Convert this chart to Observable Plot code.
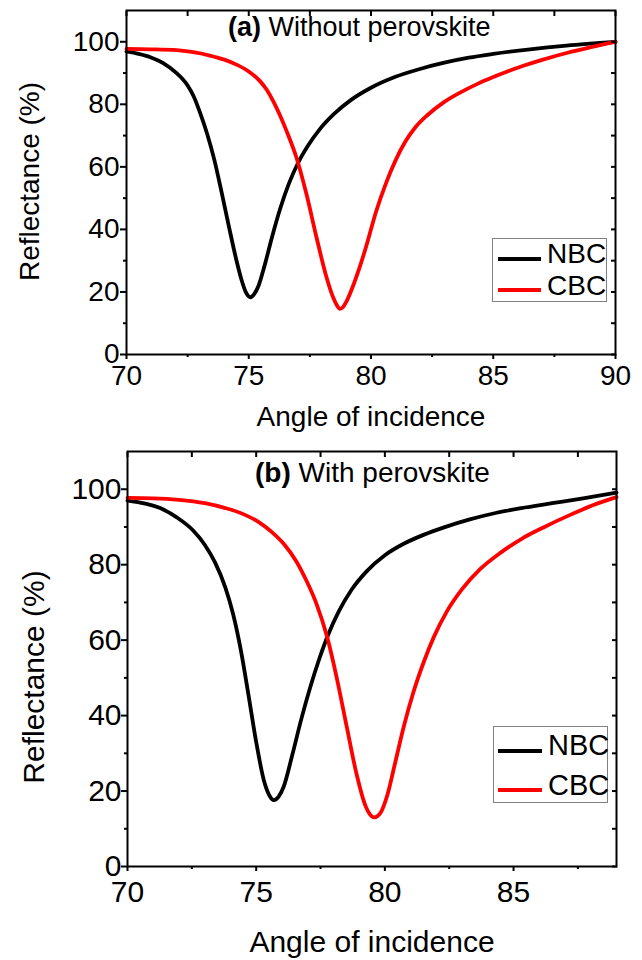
<!DOCTYPE html>
<html><head><meta charset="utf-8">
<script src="https://cdn.jsdelivr.net/npm/d3@7"></script>
<script src="https://cdn.jsdelivr.net/npm/@observablehq/plot@0.6"></script>
<style>
body{margin:0;background:#fff;font-family:"Liberation Sans",Arial,sans-serif;}
#wrap{position:relative;width:642px;height:960px;overflow:hidden;}
.panel{position:absolute;left:0;}
.title{position:absolute;white-space:nowrap;color:#000;line-height:1;}
.legend{position:absolute;border:1px solid #808080;background:#fff;box-sizing:border-box;}
.legend .sw{position:absolute;height:4px;}
.legend .lb{position:absolute;line-height:1;white-space:nowrap;color:#000;}
</style></head>
<body><div id="wrap"></div>
<script>
// ---- data ----
const seriesNames = ["NBC", "CBC"];
const seriesColors = ["#000000", "#ff0000"];
const panelTitlesBold = ["(a)", "(b)"];
const panelTitlesRest = [" Without perovskite", " With perovskite"];
const xLabel = "Angle of incidence";
const yLabel = "Reflectance (%)";

// panel (a) — without perovskite
const angleA_NBC = [70, 70.5, 71.0, 71.5, 72.0, 72.5, 72.75, 73.0, 73.3, 73.6, 73.9, 74.2, 74.5, 74.7, 74.9, 75.07, 75.22, 75.4, 75.65, 75.95, 76.3, 76.65, 77.0, 77.4, 77.9, 78.5, 79.2, 80.0, 81.0, 82.0, 83.0, 84.0, 85.0, 86.5, 88.0, 90];
const reflA_NBC  = [96.9, 96.1, 95.0, 93.2, 90.3, 86.0, 82.5, 77.5, 70.5, 62.0, 51.5, 40.5, 30.0, 24.0, 19.6, 18.3, 19.3, 22.0, 28.5, 37.5, 47.0, 54.8, 61.0, 66.5, 72.0, 77.0, 81.5, 85.3, 88.8, 91.3, 93.3, 94.9, 96.1, 97.6, 98.8, 100];
const angleA_CBC = [70, 71.0, 72.05, 72.8, 73.41, 74.0, 74.5, 75.0, 75.45, 75.75, 76.0, 76.54, 76.95, 77.36, 77.77, 78.18, 78.45, 78.6, 78.73, 78.86, 79.0, 79.27, 79.54, 79.82, 80.2, 80.6, 81.0, 81.4, 81.8, 82.3, 83.0, 83.7, 84.4, 85.0, 86.0, 87.0, 88.0, 89.0, 90];
const reflA_CBC  = [97.7, 97.6, 97.3, 96.6, 95.6, 94.3, 92.7, 90.5, 87.5, 84.5, 81.0, 71.6, 63.0, 51.3, 37.5, 24.7, 18.3, 15.8, 14.6, 15.2, 17.0, 22.0, 28.0, 35.0, 45.5, 54.5, 62.0, 68.0, 72.5, 76.5, 80.8, 84.0, 86.7, 88.7, 91.7, 94.2, 96.4, 98.3, 100];

// panel (b) — with perovskite
const angleB_NBC = [70, 71.27, 71.9, 72.56, 73.0, 73.4, 73.8, 74.1, 74.4, 74.7, 75.0, 75.3, 75.5, 75.69, 75.88, 76.06, 76.4, 76.75, 77.1, 77.45, 77.8, 78.2, 78.7, 79.3, 80.0, 80.75, 81.5, 82.3, 83.3, 84.3, 85.3, 86.5, 87.7, 89];
const reflB_NBC  = [97.0, 95.0, 92.6, 89.0, 85.3, 80.6, 74.0, 67.0, 57.5, 45.5, 33.0, 22.8, 19.0, 17.6, 18.6, 21.0, 29.5, 39.0, 47.5, 55.0, 61.5, 67.5, 73.3, 78.3, 82.5, 85.6, 87.9, 89.9, 92.0, 93.7, 95.0, 96.3, 97.6, 99.1];
const angleB_CBC = [70, 71.0, 72.0, 73.0, 73.8, 74.5, 75.1, 75.6, 76.1, 76.55, 76.95, 77.35, 77.75, 78.13, 78.52, 78.9, 79.25, 79.42, 79.58, 79.72, 79.84, 80.1, 80.4, 80.75, 81.1, 81.5, 81.9, 82.4, 83.0, 83.7, 84.5, 85.3, 86.2, 87.2, 88.1, 89];
const reflB_CBC  = [97.7, 97.6, 97.2, 96.3, 95.0, 93.4, 91.3, 88.7, 85.3, 81.0, 75.8, 69.5, 61.0, 50.0, 37.0, 24.5, 16.0, 13.8, 13.0, 13.4, 14.3, 19.0, 27.5, 37.5, 46.0, 54.0, 60.8, 67.5, 73.5, 78.8, 83.2, 86.8, 90.0, 93.2, 95.8, 97.9];

// ticks
const xMajorA = [70, 75, 80, 85, 90];
const xMajorB = [70, 75, 80, 85];
const xMinor = [72.5, 77.5, 82.5, 87.5];
const yMajor = [0, 20, 40, 60, 80, 100];
const yMinor = [10, 30, 50, 70, 90];
const xDomainA = [70, 90];
const xDomainB = [70, 89];
const yDomain = [0, 110];

function rows(xs, ys, name) { return xs.map((x, i) => ({angle: x, refl: ys[i], series: name})); }

const wrap = document.getElementById("wrap");

function makePanel(cfg) {
  const data = [...rows(cfg.ax[0], cfg.ry[0], seriesNames[0]), ...rows(cfg.ax[1], cfg.ry[1], seriesNames[1])];
  const fs = cfg.fs;
  const p = Plot.plot({
    width: 642, height: cfg.height,
    marginLeft: cfg.ml, marginRight: cfg.mr, marginTop: cfg.mt, marginBottom: cfg.mb,
    style: {fontFamily: '"Liberation Sans", Arial, sans-serif', background: "transparent", color: "#000"},
    x: {domain: cfg.xDomain},
    y: {domain: yDomain},
    color: {domain: seriesNames, range: seriesColors},
    marks: [
      Plot.line(data, {x: "angle", y: "refl", z: "series", stroke: "series", strokeWidth: 3.8, curve: "monotone-x"}),
      Plot.frame({stroke: "#000", strokeWidth: 2}),
      // bottom axis
      Plot.axisX({anchor: "bottom", ticks: cfg.xMajor, tickSize: 5, tickPadding: cfg.xpad, fontSize: fs, strokeWidth: 2, label: null, tickFormat: d => d}),
      Plot.axisX({anchor: "bottom", ticks: xMinor, tickSize: 3, strokeWidth: 2, label: null, tickFormat: () => ""}),
      // top axis (inward)
      Plot.axisX({anchor: "top", ticks: cfg.xMajor.concat(xMinor), tickSize: 5, dy: 5, strokeWidth: 2, label: null, tickFormat: () => ""}),
      // left axis
      Plot.axisY({anchor: "left", ticks: yMajor, tickSize: 6, tickPadding: cfg.ypad, fontSize: fs, strokeWidth: 2, label: null, tickFormat: d => d}),
      Plot.axisY({anchor: "left", ticks: yMinor, tickSize: 3, strokeWidth: 2, label: null, tickFormat: () => ""}),
      // right axis (inward)
      Plot.axisY({anchor: "right", ticks: yMajor.concat(yMinor), tickSize: 5, dx: -5, strokeWidth: 2, label: null, tickFormat: () => ""}),
      Plot.text([xLabel], {text: d => d, frameAnchor: "bottom", lineAnchor: "middle", textAnchor: "middle", dy: cfg.xlabDy, fontSize: cfg.labFs, fill: "#000"}),
      Plot.text([yLabel], {text: d => d, frameAnchor: "left", textAnchor: "middle", lineAnchor: "middle", rotate: -90, dx: cfg.ylabDx, dy: cfg.ylabDy, fontSize: cfg.labFs, fill: "#000"})
    ]
  });
  const holder = document.createElement("div");
  holder.className = "panel";
  holder.style.top = cfg.top + "px";
  holder.appendChild(p);
  wrap.appendChild(holder);

  // title
  const t = document.createElement("div");
  t.className = "title";
  t.style.left = cfg.titleX + "px";
  t.style.top = (cfg.titleBase - 0.8465 * cfg.titleFs) + "px";
  t.style.fontSize = cfg.titleFs + "px";
  const b = document.createElement("b"); b.textContent = cfg.titleBold;
  t.appendChild(b);
  t.appendChild(document.createTextNode(cfg.titleRest));
  wrap.appendChild(t);

  // legend
  const L = cfg.legend;
  const box = document.createElement("div");
  box.className = "legend";
  Object.assign(box.style, {left: L.x + "px", top: L.y + "px", width: L.w + "px", height: L.h + "px"});
  seriesNames.forEach((name, i) => {
    const sw = document.createElement("div");
    sw.className = "sw";
    Object.assign(sw.style, {left: L.swX + "px", width: L.swW + "px", top: (L.rows[i] - 2) + "px", background: seriesColors[i]});
    box.appendChild(sw);
    const lb = document.createElement("div");
    lb.className = "lb";
    lb.textContent = name;
    Object.assign(lb.style, {left: L.txX + "px", top: (L.base[i] - 0.8465 * L.fs) + "px", fontSize: L.fs + "px"});
    box.appendChild(lb);
  });
  wrap.appendChild(box);
}

makePanel({
  top: 0, height: 440, ml: 126, mr: 27, mt: 10, mb: 86,
  xDomain: xDomainA, xMajor: xMajorA,
  ax: [angleA_NBC, angleA_CBC], ry: [reflA_NBC, reflA_CBC],
  fs: 28, labFs: 28, xpad: 6, ypad: 1, xlabDy: 63, ylabDx: -96, ylabDy: -1,
  titleBold: panelTitlesBold[0], titleRest: panelTitlesRest[0], titleX: 228, titleBase: 37, titleFs: 27,
  legend: {x: 492, y: 238, w: 115, h: 64, swX: 5, swW: 43, rows: [20, 51], txX: 54, base: [25, 57], fs: 28}
});
makePanel({
  top: 440, height: 520, ml: 127, mr: 26, mt: 11, mb: 94,
  xDomain: xDomainB, xMajor: xMajorB,
  ax: [angleB_NBC, angleB_CBC], ry: [reflB_NBC, reflB_CBC],
  fs: 30, labFs: 30, xpad: 9, ypad: 0, xlabDy: 76, ylabDx: -93, ylabDy: 18,
  titleBold: panelTitlesBold[1], titleRest: panelTitlesRest[1], titleX: 255, titleBase: 483, titleFs: 28,
  legend: {x: 493, y: 726, w: 115, h: 77, swX: 4, swW: 44, rows: [24, 63], txX: 54, base: [29, 69], fs: 29}
});
</script></body></html>
